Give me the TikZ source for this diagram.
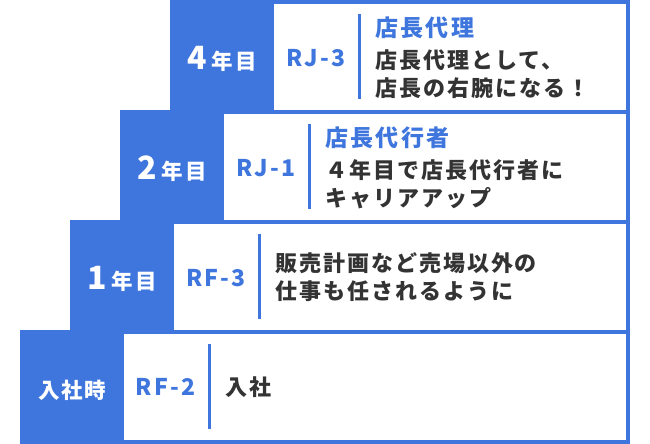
\documentclass[tikz,border=0pt]{standalone}
\usepackage{fontspec}
\setmainfont{Noto Sans CJK JP}
\definecolor{cblue}{HTML}{3F76DE}
\definecolor{ctext}{HTML}{333333}
\newcommand\bignum[1]{{\fontsize{32}{32}\selectfont #1}\hspace{5pt}}
\newcommand\smallyr[1]{{\fontsize{21.5}{21.5}\selectfont #1}}
\tikzset{
  frame/.style={fill=cblue, draw=none, inner sep=0pt, outer sep=0pt, anchor=north west,
    minimum width=#1, minimum height=114pt},
  panel/.style={fill=white, draw=none, inner sep=0pt, outer sep=0pt, anchor=north west,
    minimum width=#1, minimum height=106pt},
  yr/.style={text=white, inner sep=0pt, anchor=center,
    font=\bfseries\addfontfeature{LetterSpace=8}},
  code/.style={text=cblue, inner sep=0pt, anchor=center,
    font=\bfseries\fontsize{23}{23}\selectfont\addfontfeature{LetterSpace=9}},
  divider/.style={draw=cblue, line width=3.5pt},
  body/.style={text=ctext, align=left, anchor=west, inner sep=0pt,
    font=\bfseries\fontsize{22}{28}\selectfont\addfontfeature{LetterSpace=9}}
}
\newcommand\ttltext[1]{{\color{cblue}\fontsize{23}{28}\selectfont\addfontfeature{LetterSpace=10}#1}}
\begin{document}
\begin{tikzpicture}[x=1pt,y=-1pt]
\useasboundingbox (0,0) rectangle (650,444);
\fill[white] (0,0) rectangle (650,444);
% ---- row 1 : 4年目 ----
\node[frame=460pt] (f1) at (170,0) {};
\node[panel=352pt] (p1) at (274,4) {};
\node[yr] (y1) at (222,59) {\bignum{4}\smallyr{年目}};
\node[code] (c1) at (316,58) {RJ-3};
\coordinate (d1a) at (359.5,14);
\coordinate (d1b) at (359.5,99);
\draw[divider] (d1a) -- (d1b);
\node[body] (t1) at (375,57.5) {\ttltext{店長代理}\\[4pt]店長代理として、\\店長の右腕になる！};
% ---- row 2 : 2年目 ----
\node[frame=510pt] (f2) at (120,110) {};
\node[panel=402pt] (p2) at (224,114) {};
\node[yr] (y2) at (172,169) {\bignum{2}\smallyr{年目}};
\node[code] (c2) at (266,168) {RJ-1};
\coordinate (d2a) at (309.5,124);
\coordinate (d2b) at (309.5,209);
\draw[divider] (d2a) -- (d2b);
\node[body] (t2) at (325,167.5) {\ttltext{店長代行者}\\[4pt]４年目で店長代行者に\\キャリアアップ};
% ---- row 3 : 1年目 ----
\node[frame=560pt] (f3) at (70,220) {};
\node[panel=452pt] (p3) at (174,224) {};
\node[yr] (y3) at (122,279) {\bignum{1}\smallyr{年目}};
\node[code] (c3) at (216,278) {RF-3};
\coordinate (d3a) at (259.5,234);
\coordinate (d3b) at (259.5,319);
\draw[divider] (d3a) -- (d3b);
\node[body] (t3) at (275,277.5) {販売計画など売場以外の\\仕事も任されるように};
% ---- row 4 : 入社時 ----
\node[frame=610pt] (f4) at (20,330) {};
\node[panel=502pt] (p4) at (124,334) {};
\node[yr] (y4) at (72,390) {\smallyr{入社時}};
\node[code] (c4) at (165.5,387) {RF-2};
\coordinate (d4a) at (209.5,344);
\coordinate (d4b) at (209.5,429);
\draw[divider] (d4a) -- (d4b);
\node[body] (t4) at (225,387.5) {入社};
\end{tikzpicture}
\end{document}
